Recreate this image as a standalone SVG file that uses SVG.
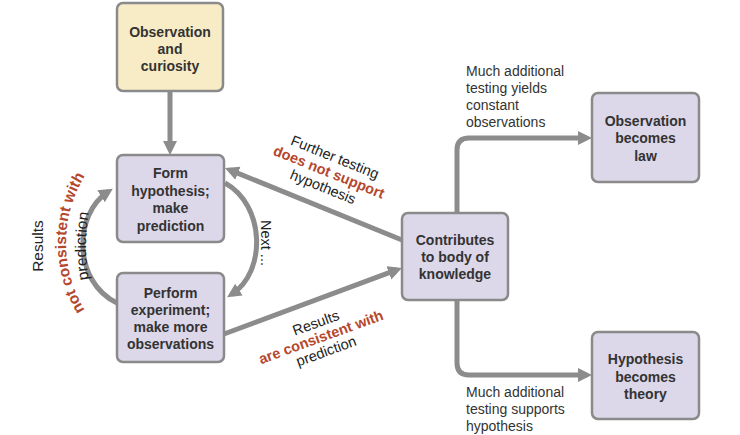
<svg xmlns="http://www.w3.org/2000/svg" width="740" height="435" viewBox="0 0 740 435">
<defs>
<marker id="ah" markerUnits="userSpaceOnUse" markerWidth="16" markerHeight="16" refX="9" refY="7" orient="auto">
<path d="M0,0 L14,7 L0,14 z" fill="#8c8c8c"/>
</marker>
<path id="arcRed" d="M113,343 A130,130 0 0 1 113,143"/>
<path id="arcPred" d="M95.2,306 A200,200 0 0 1 95.2,186"/>
</defs>
<style>
.box{fill:#dcd7e9;stroke:#8a8a8a;stroke-width:2.5}
.beige{fill:#f8ecc6;stroke:#8a8a8a;stroke-width:2.5}
.nt{font-family:"Liberation Sans",Arial,sans-serif;font-size:14px;font-weight:bold;fill:#333;text-anchor:middle}
.lt{font-family:"Liberation Sans",Arial,sans-serif;font-size:14px;fill:#333}
.rl{font-family:"Liberation Sans",Arial,sans-serif;font-size:14.5px;fill:#222;text-anchor:middle}
.big{font-size:15.5px}
.red{font-weight:bold;fill:#b5472d}
.conn{fill:none;stroke:#8c8c8c;stroke-width:5;marker-end:url(#ah)}
</style>
<rect width="740" height="435" fill="#ffffff"/>
<g id="connectors">
<path class="conn" d="M170,91 V150"/>
<path class="conn" d="M402,240 L229.6,169.9"/>
<path class="conn" d="M224,334 L397.3,269.7"/>
<path class="conn" d="M457,213 V150 Q457,138 469,138 H587"/>
<path class="conn" d="M457,300 V363 Q457,375 469,375 H587"/>
<path class="conn" d="M117,303 C73,282 73,214 108.6,191.4"/>
<path class="conn" d="M225,183 C265,205 267,272 231.3,294.5"/>
</g>
<g id="labels">
<g transform="translate(329,172) rotate(22)">
<text class="rl" x="0" y="-11">Further testing</text>
<text class="rl red" x="0" y="5">does not support</text>
<text class="rl" x="0" y="21">hypothesis</text>
</g>
<g transform="translate(321,337) rotate(-20)">
<text class="rl" x="0" y="-10">Results</text>
<text class="rl red" x="0" y="5">are consistent with</text>
<text class="rl" x="0" y="20">prediction</text>
</g>
<text class="rl" transform="translate(266,243) rotate(90)" x="0" y="5">Next ...</text>
<text class="rl big" transform="translate(38,246) rotate(-90)" x="0" y="5">Results</text>
<text class="rl big red"><textPath href="#arcRed" startOffset="50%">not consistent with</textPath></text>
<text class="rl big"><textPath href="#arcPred" startOffset="50%">prediction</textPath></text>
<text class="lt" x="466"><tspan x="466" y="76">Much additional</tspan><tspan x="466" y="93">testing yields</tspan><tspan x="466" y="110">constant</tspan><tspan x="466" y="127">observations</tspan></text>
<text class="lt" x="466"><tspan x="466" y="397">Much additional</tspan><tspan x="466" y="414">testing supports</tspan><tspan x="466" y="431">hypothesis</tspan></text>
</g>
<g id="observation">
<rect class="beige" x="117" y="3" width="106" height="88" rx="6"/>
<text class="nt"><tspan x="170" y="37">Observation</tspan><tspan x="170" y="54">and</tspan><tspan x="170" y="71">curiosity</tspan></text>
</g>
<g id="hypothesis">
<rect class="box" x="117" y="155" width="107" height="87" rx="6"/>
<text class="nt"><tspan x="170.5" y="178">Form</tspan><tspan x="170.5" y="195.5">hypothesis;</tspan><tspan x="170.5" y="213">make</tspan><tspan x="170.5" y="230.5">prediction</tspan></text>
</g>
<g id="experiment">
<rect class="box" x="117" y="273" width="107" height="89" rx="6"/>
<text class="nt"><tspan x="170.5" y="298">Perform</tspan><tspan x="170.5" y="315">experiment;</tspan><tspan x="170.5" y="332">make more</tspan><tspan x="170.5" y="349">observations</tspan></text>
</g>
<g id="knowledge">
<rect class="box" x="402" y="213" width="106" height="87" rx="6"/>
<text class="nt"><tspan x="455" y="245">Contributes</tspan><tspan x="455" y="262">to body of</tspan><tspan x="455" y="279">knowledge</tspan></text>
</g>
<g id="law">
<rect class="box" x="592" y="93" width="107" height="89" rx="6"/>
<text class="nt"><tspan x="645.5" y="126">Observation</tspan><tspan x="645.5" y="143">becomes</tspan><tspan x="645.5" y="161">law</tspan></text>
</g>
<g id="theory">
<rect class="box" x="592" y="332" width="107" height="87" rx="6"/>
<text class="nt"><tspan x="645.5" y="364">Hypothesis</tspan><tspan x="645.5" y="382">becomes</tspan><tspan x="645.5" y="399">theory</tspan></text>
</g>
</svg>
